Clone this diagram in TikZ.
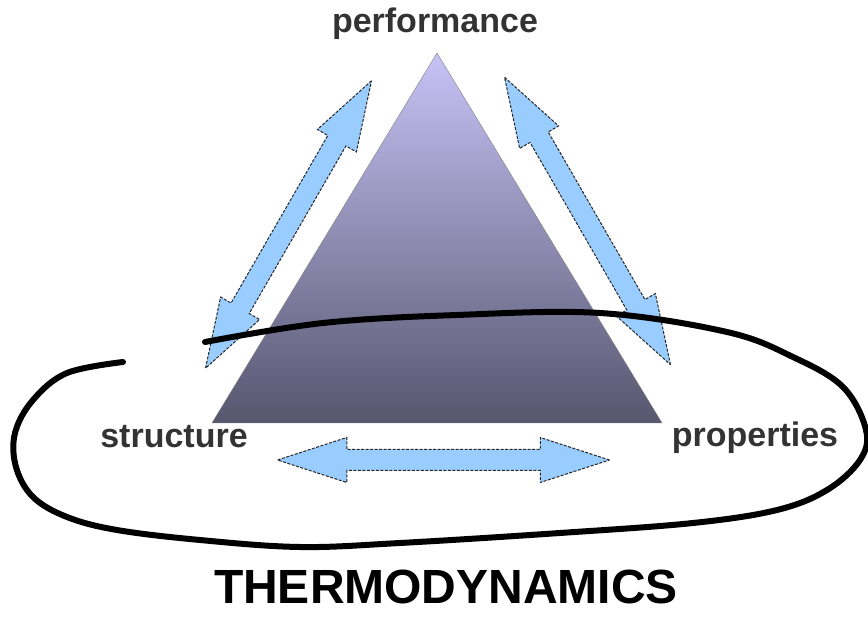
\documentclass[tikz,border=0pt]{standalone}
\usepackage{fontspec}
\setmainfont{Liberation Sans}
\usetikzlibrary{shapes.arrows}
\definecolor{arrowblue}{RGB}{153,204,255}
\definecolor{labelgray}{RGB}{51,51,51}
\definecolor{pyrtop}{RGB}{200,194,246}
\definecolor{pyrmid}{RGB}{146,142,188}
\definecolor{pyrbot}{RGB}{86,86,110}

\begin{document}
\begin{tikzpicture}[x=1pt, y=-1pt,
  lbl/.style={font=\fontsize{34}{40}\selectfont\bfseries, text=labelgray, anchor=base, inner sep=0pt},
  fatarrow/.style={double arrow, draw=black!85, dash pattern=on 3pt off 1.5pt, fill=arrowblue,
    line width=1pt, minimum height=332pt, inner sep=0pt, inner ysep=10pt,
    double arrow head extend=12pt, double arrow tip angle=36},
  loopline/.style={line width=6pt, line cap=round}]
  \useasboundingbox (0,0) rectangle (868,617);
  \coordinate (P) at (437,53);
  \coordinate (S) at (212,423);
  \coordinate (R) at (662,423);
  \shade[top color=pyrtop, middle color=pyrmid, bottom color=pyrbot, draw=gray, line width=0.4pt]
    (P) -- (S) -- (R) -- cycle;

  \node[fatarrow, rotate=60] (ps) at (288.5,224.5) {};
  \node[fatarrow, rotate=-60] (pr) at (587.5,221) {};
  \node[fatarrow] (sr) at (443.5,460) {};

  \node[lbl] (perf) at (435,33) {performance};
  \node[lbl] (struc) at (174,448) {structure};
  \node[lbl] (prop) at (755,447) {properties};
  \node[font=\fontsize{48}{52}\selectfont\bfseries, anchor=base, inner sep=0pt] (thermo) at (446,603) {THERMODYNAMICS};

  % the hand-drawn loop
  \draw[loopline] plot[smooth, tension=0.6] coordinates {(205,342) (323,323) (457,315) (600,313)
    (727,332) (793,357) (843,387) (866,430) (860,460) (827,490) (777,510) (693,523) (560,533)
    (400,543) (300,547) (200,540) (117,530) (67,517) (33,497) (16,467) (15,433) (33,400)
    (67,373) (123,362)};
\end{tikzpicture}
\end{document}
